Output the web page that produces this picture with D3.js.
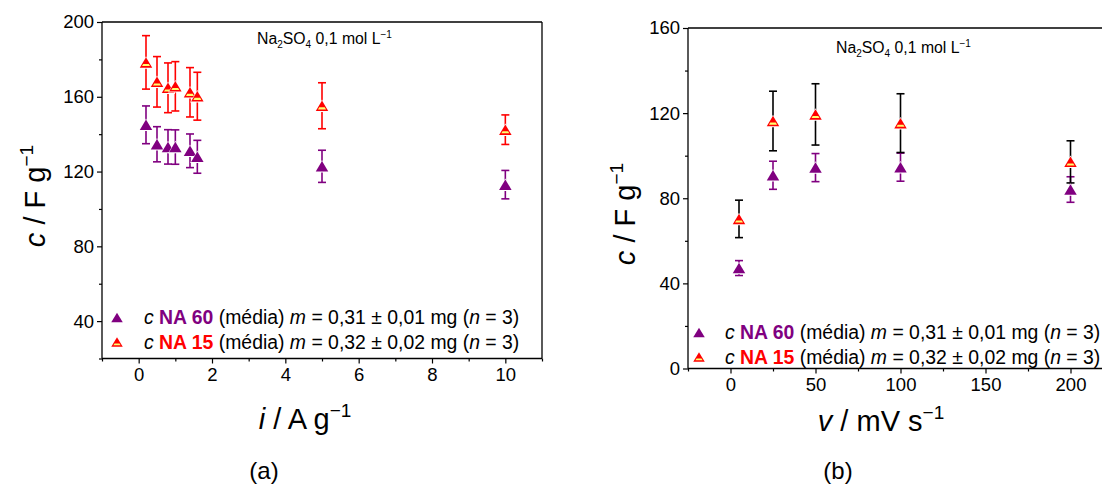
<!DOCTYPE html>
<html><head><meta charset="utf-8">
<script src="https://cdn.jsdelivr.net/npm/d3@7"></script>
<style>body{margin:0;background:#fff}svg{display:block;font-family:"Liberation Sans",Arial,sans-serif}</style>
</head><body><svg id="c" width="1102" height="488"></svg>
<script>
// ---- data ----
const iValues = [0.2, 0.5, 0.8, 1.0, 1.4, 1.6, 5, 10];
const na60_i = [145.0, 134.6, 133.2, 133.1, 131.1, 127.9, 122.8, 113.0];
const na60_i_err = [10.1, 9.4, 9.2, 9.2, 9.0, 8.8, 8.6, 7.6];
const na15_i = [178.4, 168.0, 164.8, 165.6, 162.4, 160.3, 155.2, 142.4];
const na15_i_err = [14.3, 13.5, 13.3, 13.2, 13.2, 12.8, 12.3, 7.9];

const vValues = [5, 25, 50, 100, 200];
const na60_v = [47.2, 90.8, 94.4, 94.6, 84.1];
const na60_v_err = [3.5, 6.6, 6.6, 6.6, 6.0];
const na15_v = [70.3, 116.3, 119.4, 115.3, 97.1];
const na15_v_err = [8.8, 14.0, 14.4, 13.8, 9.9];

const leftXTicks = [0, 2, 4, 6, 8, 10];
const leftXMinor = [-1, 1, 3, 5, 7, 9, 11];
const leftYTicks = [40, 80, 120, 160, 200];
const leftYMinor = [20, 60, 100, 140, 180];
const rightXTicks = [0, 50, 100, 150, 200];
const rightXMinor = [-25, 25, 75, 125, 175];
const rightYTicks = [0, 40, 80, 120, 160];
const rightYMinor = [20, 60, 100, 140];

const PURPLE = "#800080", RED = "#ff0000", YEL = "#ffff70";
const svg = d3.select("#c");

function triPath(w, h) {
  return `M0,${-h/2}L${w/2},${h/2}L${-w/2},${h/2}Z`;
}
function drawMarker(g, x, y, kind, w, h) {
  const m = g.append("g").attr("transform", `translate(${x},${y})`);
  if (kind === "purple") {
    m.append("path").attr("d", triPath(w + 2, h + 2)).attr("fill", "#fff");
    m.append("path").attr("d", triPath(w, h)).attr("fill", PURPLE);
  } else {
    m.append("path").attr("d", triPath(w + 2, h + 2)).attr("fill", "#fff");
    m.append("path").attr("d", triPath(w, h)).attr("fill", RED);
    const hw = w / 2;
    const y1 = h * 0.15, y2 = h * 0.35;
    const a = hw * (y1 + h/2) / h - 1.3, b = hw * (y2 + h/2) / h - 1.3;
    m.append("path").attr("d", `M${-a},${y1}L${a},${y1}L${b},${y2}L${-b},${y2}Z`).attr("fill", YEL);
  }
}

function drawPanel(cfg) {
  const x = d3.scaleLinear().domain(cfg.xDomain).range(cfg.xRange);
  const y = d3.scaleLinear().domain(cfg.yDomain).range(cfg.yRange);
  const g = svg.append("g");
  const x0 = cfg.xRange[0], x1 = Math.min(cfg.xRange[1], 1102), y0 = cfg.yRange[0], y1 = cfg.yRange[1];

  const xAxis = d3.axisBottom(x).tickValues(cfg.xTicks).tickSize(5).tickPadding(4).tickFormat(d3.format("d"));
  const xMinor = d3.axisBottom(x).tickValues(cfg.xMinor).tickSize(3).tickFormat("");
  const yAxis = d3.axisLeft(y).tickValues(cfg.yTicks).tickSize(5).tickPadding(3).tickFormat(d3.format("d"));
  const yMinor = d3.axisLeft(y).tickValues(cfg.yMinor).tickSize(3).tickFormat("");
  [[xAxis, `translate(0,${y0})`], [xMinor, `translate(0,${y0})`], [yAxis, `translate(${x0},0)`], [yMinor, `translate(${x0},0)`]]
    .forEach(([ax, t]) => {
      const a = g.append("g").attr("transform", t).call(ax);
      a.select(".domain").remove();
      a.selectAll("line").attr("stroke", "#000").attr("stroke-width", 1.2);
      a.selectAll("text").attr("font-size", 18.5).attr("fill", "#000").attr("font-family", "Liberation Sans, Arial, sans-serif");
    });
  g.append("line").attr("x1", x0).attr("x2", x1).attr("y1", y0).attr("y2", y0).attr("stroke", "#000").attr("stroke-width", 1.3);
  g.append("line").attr("x1", x0).attr("x2", x0).attr("y1", y0).attr("y2", y1).attr("stroke", "#000").attr("stroke-width", 1.3);
  g.append("line").attr("x1", x0).attr("x2", x1).attr("y1", y1).attr("y2", y1).attr("stroke", "#000").attr("stroke-width", 1.3);
  if (cfg.rightBorder) g.append("line").attr("x1", x1).attr("x2", x1).attr("y1", y0).attr("y2", y1).attr("stroke", "#000").attr("stroke-width", 1.3);

  cfg.series.forEach(s => {
    const eg = g.append("g");
    cfg.xs.forEach((xv, k) => {
      const px = x(xv), hi = y(s.vals[k] + s.err[k]), lo = y(s.vals[k] - s.err[k]);
      eg.append("line").attr("x1", px).attr("x2", px).attr("y1", hi).attr("y2", lo).attr("stroke", s.errColor).attr("stroke-width", 1.6);
      [hi, lo].forEach(yy => eg.append("line").attr("x1", px - 4).attr("x2", px + 4).attr("y1", yy).attr("y2", yy).attr("stroke", s.errColor).attr("stroke-width", 1.6));
    });
  });
  cfg.series.forEach(s => {
    cfg.xs.forEach((xv, k) => drawMarker(g, x(xv), y(s.vals[k]), s.kind, 12.5, 10.5));
  });

  const t = g.append("text").attr("x", cfg.title[0]).attr("y", cfg.title[1]).attr("font-size", 15.8).attr("fill", "#000");
  t.append("tspan").text("Na");
  t.append("tspan").text("2").attr("font-size", 10).attr("dy", 4);
  t.append("tspan").text("SO").attr("dy", -4);
  t.append("tspan").text("4").attr("font-size", 10).attr("dy", 4);
  t.append("tspan").text(" 0,1 mol L").attr("dy", -4);
  t.append("tspan").text("\u22121").attr("font-size", 10).attr("dy", -6);

  const L = cfg.legend;
  const rows = [
    {kind: "purple", name: "NA 60", col: PURPLE, m: "0,31", pm: "0,01"},
    {kind: "red", name: "NA 15", col: RED, m: "0,32", pm: "0,02"}
  ];
  rows.forEach((r, k) => {
    const by = L.y + k * 24.5;
    drawMarker(g, L.mx, by - 6.5, r.kind, 11.5, 9.5);
    const tx = g.append("text").attr("x", L.tx).attr("y", by).attr("font-size", 19.4).attr("fill", "#000");
    tx.append("tspan").text("c ").attr("font-style", "italic");
    tx.append("tspan").text(r.name).attr("font-weight", "bold").attr("fill", r.col);
    tx.append("tspan").text(" (média) ");
    tx.append("tspan").text("m").attr("font-style", "italic");
    tx.append("tspan").text(` = ${r.m} \u00b1 ${r.pm} mg (`);
    tx.append("tspan").text("n").attr("font-style", "italic");
    tx.append("tspan").text(" = 3)");
  });

  const yt = g.append("text").attr("transform", `translate(${cfg.ylab[0]},${cfg.ylab[1]}) rotate(-90)`)
    .attr("text-anchor", "middle").attr("font-size", 29).attr("fill", "#000");
  yt.append("tspan").text("c").attr("font-style", "italic");
  yt.append("tspan").text(" / F g");
  yt.append("tspan").text("\u22121").attr("font-size", 19).attr("dy", -12);

  const xt = g.append("text").attr("x", cfg.xlab[0]).attr("y", cfg.xlab[1]).attr("text-anchor", "middle").attr("font-size", 29).attr("fill", "#000");
  xt.append("tspan").text(cfg.xvar).attr("font-style", "italic");
  xt.append("tspan").text(cfg.xunit);
  xt.append("tspan").text("\u22121").attr("font-size", 19).attr("dy", -12);

  g.append("text").attr("x", cfg.panel[0]).attr("y", cfg.panel[1]).attr("text-anchor", "middle").attr("font-size", 24).attr("fill", "#000").text(cfg.panel[2]);
}

drawPanel({
  xDomain: [-1, 11], xRange: [102, 542], yDomain: [20, 200], yRange: [358.5, 22],
  xTicks: leftXTicks, xMinor: leftXMinor, yTicks: leftYTicks, yMinor: leftYMinor, rightBorder: true,
  xs: iValues,
  series: [
    {vals: na60_i, err: na60_i_err, kind: "purple", errColor: PURPLE},
    {vals: na15_i, err: na15_i_err, kind: "red", errColor: RED}
  ],
  title: [257, 44], legend: {mx: 117, tx: 144, y: 324},
  ylab: [45, 196], xlab: [305, 429], xvar: "i", xunit: " / A g", panel: [264, 479, "(a)"]
});
drawPanel({
  xDomain: [-25, 220], xRange: [688, 1104.5], yDomain: [0, 160], yRange: [368.5, 28],
  xTicks: rightXTicks, xMinor: rightXMinor, yTicks: rightYTicks, yMinor: rightYMinor, rightBorder: false,
  xs: vValues,
  series: [
    {vals: na60_v, err: na60_v_err, kind: "purple", errColor: PURPLE},
    {vals: na15_v, err: na15_v_err, kind: "red", errColor: "#000"}
  ],
  title: [836, 53], legend: {mx: 699, tx: 725, y: 339},
  ylab: [635, 214], xlab: [881, 431], xvar: "v", xunit: " / mV s", panel: [838, 479, "(b)"]
});
</script></body></html>
